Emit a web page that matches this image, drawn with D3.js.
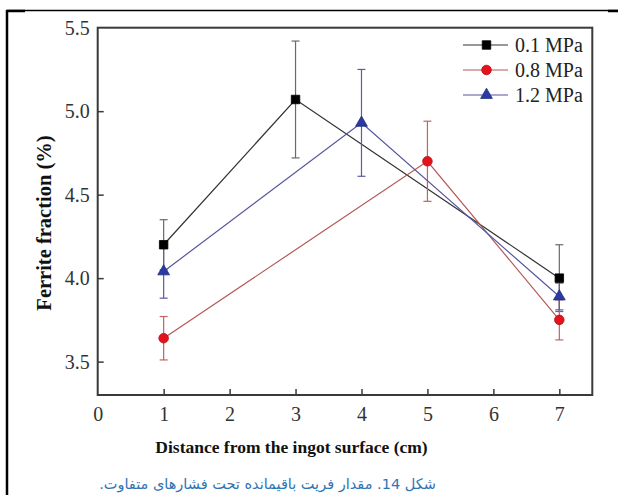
<!DOCTYPE html>
<html>
<head>
<meta charset="utf-8">
<script src="https://cdn.jsdelivr.net/npm/d3@7"></script>
<style>
  body { margin: 0; background: #fff; }
  #place { position: relative; width: 619px; height: 495px; overflow: hidden; }
  svg { display: block; }
  .serif { font-family: "Liberation Serif", "Times New Roman", Times, serif; }
  #caption { position: absolute; left: 60px; width: 415px; top: 476.7px; text-align: center;
    font-family: "DejaVu Sans", sans-serif; font-size: 14.5px; line-height: 14.5px; color: #2e74b5; white-space: nowrap; }
</style>
</head>
<body>
<div id="place"></div>
<script>
// data
const seriesNames = ["0.1 MPa", "0.8 MPa", "1.2 MPa"];
const xBlack = [1, 3, 7];
const yBlack = [4.20, 5.07, 4.00];
const eBlack = [0.15, 0.35, 0.20];
const xRed = [1, 5, 7];
const yRed = [3.64, 4.70, 3.75];
const eRed = [0.13, 0.24, 0.12];
const xBlue = [1, 4, 7];
const yBlue = [4.04, 4.93, 3.89];
const eBlue = [0.16, 0.32, 0.08];
const xTicks = [0, 1, 2, 3, 4, 5, 6, 7];
const yTicks = [3.5, 4.0, 4.5, 5.0, 5.5];
const captionText = "شکل 14. مقدار فریت باقیمانده تحت فشارهای متفاوت.";

const W = 619, H = 495;
const margin = { top: 27.7, right: 27, bottom: 100, left: 97.7 };
const width = 592.3 - margin.left, height = 395 - margin.top;

const place = d3.select("#place");
const svg = place.append("svg")
  .attr("width", W).attr("height", H);

// outer frame of the page figure
svg.append("line").attr("x1", 7).attr("x2", 618).attr("y1", 10.5).attr("y2", 10.5)
  .attr("stroke", "#000").attr("stroke-width", 1.5);
svg.append("line").attr("x1", 7).attr("x2", 7).attr("y1", 10).attr("y2", 495)
  .attr("stroke", "#000").attr("stroke-width", 2.5);
svg.append("line").attr("x1", 6).attr("x2", 25).attr("y1", 11).attr("y2", 11)
  .attr("stroke", "#000").attr("stroke-width", 2.5);
svg.append("line").attr("x1", 608).attr("x2", 618).attr("y1", 11).attr("y2", 11)
  .attr("stroke", "#000").attr("stroke-width", 2.5);

const g = svg.append("g").attr("transform", "translate(" + margin.left + "," + margin.top + ")");

const x = d3.scaleLinear().domain([0, 7.5]).range([0, width]);
const y = d3.scaleLinear().domain([3.3, 5.5]).range([height, 0]);

const axisColor = "#3a3a3a";

// axes with inward ticks
const xAxis = g.append("g").attr("transform", "translate(0," + height + ")")
  .call(d3.axisBottom(x).tickValues(xTicks).tickFormat(d3.format("d")).tickSizeInner(-6).tickSizeOuter(0).tickPadding(12));
const yAxis = g.append("g")
  .call(d3.axisLeft(y).tickValues(yTicks).tickFormat(d3.format(".1f")).tickSizeInner(-6).tickSizeOuter(0).tickPadding(8));

[xAxis, yAxis].forEach(a => {
  a.attr("font-family", null).attr("font-size", null);
  a.select(".domain").remove();
  a.selectAll(".tick line").attr("stroke", axisColor).attr("stroke-width", 1.5);
  a.selectAll(".tick text").attr("class", "serif").attr("font-size", 20).attr("fill", "#333");
});
xAxis.selectAll(".tick").filter(d => d === 0).select("line").remove();
yAxis.selectAll(".tick").filter(d => d === 5.5).select("line").remove();

// plot frame
g.append("rect").attr("x", 0).attr("y", 0).attr("width", width).attr("height", height)
  .attr("fill", "none").attr("stroke", axisColor).attr("stroke-width", 2);

const series = [
  { xs: xBlack, ys: yBlack, es: eBlack, line: "#333", err: "#6a6a6a", fill: "#000", stroke: "#000", shape: d3.symbolSquare, size: 72 },
  { xs: xRed, ys: yRed, es: eRed, line: "#b55858", err: "#c46262", fill: "#e5121c", stroke: "#b0101a", shape: d3.symbolCircle, size: 72 },
  { xs: xBlue, ys: yBlue, es: eBlue, line: "#55559e", err: "#5c5ca6", fill: "#2a3aa2", stroke: "#202c80", shape: d3.symbolTriangle, size: 60 }
];

const line = d3.line().x(d => x(d[0])).y(d => y(d[1]));

series.forEach(s => {
  const pts = s.xs.map((v, i) => [v, s.ys[i], s.es[i]]);
  const sg = g.append("g");
  sg.append("path").datum(pts).attr("d", line)
    .attr("fill", "none").attr("stroke", s.line).attr("stroke-width", 1.2);
  const eb = sg.selectAll(".err").data(pts).enter().append("g");
  eb.append("line").attr("x1", d => x(d[0])).attr("x2", d => x(d[0]))
    .attr("y1", d => y(d[1] - d[2])).attr("y2", d => y(d[1] + d[2]))
    .attr("stroke", s.err).attr("stroke-width", 1.2);
  [-1, 1].forEach(k => {
    eb.append("line").attr("x1", d => x(d[0]) - 4).attr("x2", d => x(d[0]) + 4)
      .attr("y1", d => y(d[1] + k * d[2])).attr("y2", d => y(d[1] + k * d[2]))
      .attr("stroke", s.err).attr("stroke-width", 1.2);
  });
});
series.forEach(s => {
  g.append("g").selectAll("path").data(s.xs.map((v, i) => [v, s.ys[i]])).enter().append("path")
    .attr("d", d3.symbol().type(s.shape).size(s.size))
    .attr("transform", d => "translate(" + x(d[0]) + "," + y(d[1]) + ")")
    .attr("fill", s.fill).attr("stroke", s.stroke).attr("stroke-width", 0.8);
});

// legend
const legend = svg.append("g");
series.forEach((s, i) => {
  const ly = 45 + i * 25;
  legend.append("line").attr("x1", 463).attr("x2", 508).attr("y1", ly).attr("y2", ly)
    .attr("stroke", s.line).attr("stroke-width", 1.2);
  legend.append("path").attr("d", d3.symbol().type(s.shape).size(s.size))
    .attr("transform", "translate(486.5," + ly + ")")
    .attr("fill", s.fill).attr("stroke", s.stroke).attr("stroke-width", 0.8);
  legend.append("text").attr("class", "serif").attr("x", 515).attr("y", ly + 7)
    .attr("font-size", 20).attr("fill", "#222")
    .text(seriesNames[i]);
});

// axis titles
svg.append("text").attr("class", "serif").attr("x", 291.5).attr("y", 453).attr("text-anchor", "middle")
  .attr("font-weight", "bold").attr("font-size", 17.5).attr("fill", "#111")
  .text("Distance from the ingot surface (cm)");
svg.append("text").attr("class", "serif").attr("transform", "translate(51,223) rotate(-90)").attr("text-anchor", "middle")
  .attr("font-weight", "bold").attr("font-size", 20.5).attr("fill", "#111")
  .text("Ferrite fraction (%)");

// caption (right-to-left, as html so the bidi order is right)
place.append("div").attr("id", "caption").attr("dir", "rtl").text(captionText);
</script>
</body>
</html>
